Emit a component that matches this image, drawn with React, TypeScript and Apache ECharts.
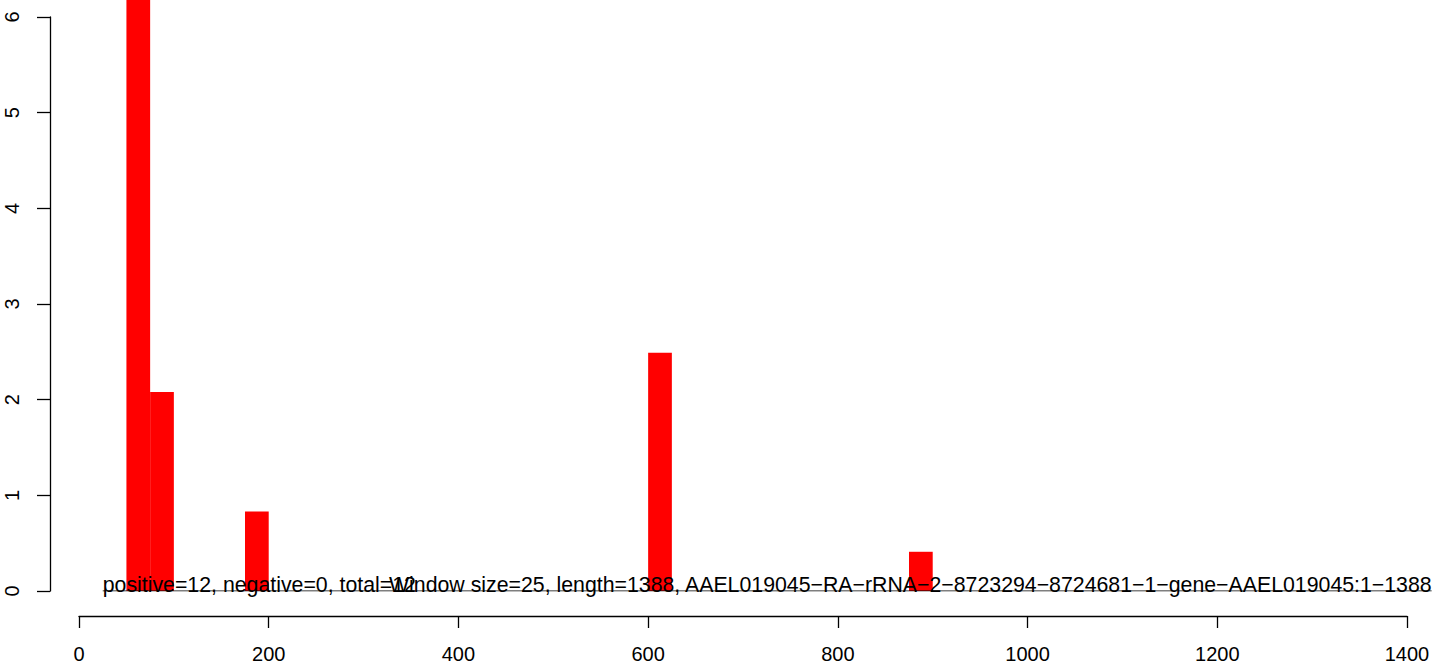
import React, { useEffect, useRef } from "react";
import * as echarts from "echarts";

// ---- data ----
const binStarts = [50, 75, 175, 600, 875];
const binValues = [6.6, 2.08, 0.83, 2.49, 0.41];
const windowSize = 25;
const xTickMin = 0;
const xTickMax = 1400;
const xTickStep = 200;
const yTickMin = 0;
const yTickMax = 6;
const yTickStep = 1;
const baselineX = [25, 1426];
const annotationX = [25, 1426];
const annotationTexts = [
  "positive=12, negative=0, total=12",
  "Window size=25, length=1388, AAEL019045\u2212RA\u2212rRNA\u22122\u22128723294\u22128724681\u22121\u2212gene\u2212AAEL019045:1\u22121388",
];
const annotationAlign = ["left", "right"];

// ---- layout ----
const PX_PER_UNIT = 1328 / 1400;
const PLOT_LEFT = 50;
const PLOT_WIDTH = 1390;
const X_MIN = -(79 - PLOT_LEFT) / PX_PER_UNIT;
const X_MAX = X_MIN + PLOT_WIDTH / PX_PER_UNIT;
const FONT = "'Liberation Sans', Arial, Helvetica, sans-serif";

export default function App() {
  const ref = useRef<HTMLDivElement>(null);
  useEffect(() => {
    if (!ref.current) return;
    const chart = echarts.init(ref.current, undefined, { renderer: "svg" });
    const barData = binStarts.map((s, i) => [s, binValues[i]]);
    const textData = annotationX.map((x, i) => [x, 0, i]);
    chart.setOption({
      animation: false,
      backgroundColor: "#ffffff",
      grid: [
        { left: PLOT_LEFT, top: 17, width: PLOT_WIDTH, height: 574 },
        { left: 79, top: 600, width: 1328, height: 16 },
      ],
      xAxis: [
        {
          gridIndex: 0,
          type: "value",
          min: X_MIN,
          max: X_MAX,
          show: false,
        },
        {
          gridIndex: 1,
          type: "value",
          min: xTickMin,
          max: xTickMax,
          interval: xTickStep,
          position: "bottom",
          axisLine: { show: true, onZero: false, lineStyle: { color: "#000", width: 1.3 } },
          axisTick: { show: true, length: 12, lineStyle: { color: "#000", width: 1.3 } },
          axisLabel: {
            color: "#000",
            fontSize: 20,
            fontFamily: FONT,
            margin: 28,
            formatter: (v: number) => String(v),
          },
          splitLine: { show: false },
        },
      ],
      yAxis: [
        {
          gridIndex: 0,
          type: "value",
          min: yTickMin,
          max: yTickMax,
          interval: yTickStep,
          position: "left",
          axisLine: { show: true, onZero: false, lineStyle: { color: "#000", width: 1.3 } },
          axisTick: { show: true, length: 13, lineStyle: { color: "#000", width: 1.3 } },
          axisLabel: {
            color: "#000",
            fontSize: 20,
            fontFamily: FONT,
            rotate: 90,
            margin: 28,
            formatter: (v: number) => String(v),
          },
          splitLine: { show: false },
        },
        { gridIndex: 1, type: "value", show: false },
      ],
      series: [
        {
          type: "custom",
          xAxisIndex: 0,
          yAxisIndex: 0,
          clip: false,
          data: barData,
          renderItem: (params: any, api: any) => {
            const x0 = api.value(0);
            const v = api.value(1);
            const p0 = api.coord([x0, v]);
            const p1 = api.coord([x0 + windowSize, 0]);
            return {
              type: "rect",
              shape: { x: p0[0], y: p0[1], width: p1[0] - p0[0], height: p1[1] - p0[1] },
              style: { fill: "#ff0000" },
            };
          },
        },
        {
          type: "line",
          xAxisIndex: 0,
          yAxisIndex: 0,
          data: baselineX.map((x) => [x, 0]),
          symbol: "none",
          lineStyle: { color: "#000", width: 1.2 },
          z: 3,
        },
        {
          type: "custom",
          xAxisIndex: 0,
          yAxisIndex: 0,
          clip: false,
          data: textData,
          z: 4,
          renderItem: (params: any, api: any) => {
            const idx = api.value(2);
            const p = api.coord([api.value(0), api.value(1)]);
            return {
              type: "text",
              x: p[0],
              y: p[1] + 4,
              style: {
                text: annotationTexts[idx],
                fill: "#000",
                fontSize: 21.3,
                fontFamily: FONT,
                align: annotationAlign[idx],
                verticalAlign: "bottom",
              },
            };
          },
        },
      ],
    });
    return () => chart.dispose();
  }, []);
  return <div ref={ref} style={{ width: 1450, height: 666, position: "absolute", left: 0, top: 0 }} />;
}
